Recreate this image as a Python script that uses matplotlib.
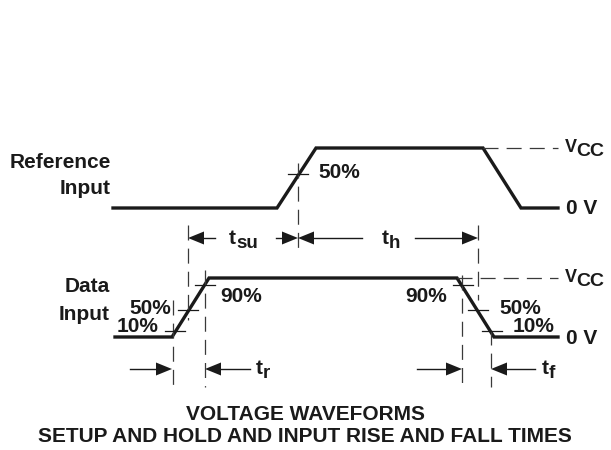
import matplotlib.pyplot as plt
from matplotlib.patches import Polygon

plt.rcParams['font.family'] = ['Liberation Sans', 'DejaVu Sans']
plt.rcParams['font.weight'] = 'bold'

# waveforms, in picture pixels (y grows downward)
ref_x = [113, 277, 316, 483, 521, 558]
ref_y = [208, 208, 148, 148, 208, 208]
data_x = [115, 172, 209, 457, 494, 558]
data_y = [337, 337, 278, 278, 337, 337]

# dashed guides: (x0, y0, x1, y1)
guides = [
    (483, 148, 558, 148), (457, 278, 558, 278),
    (188, 225, 188, 320), (298, 163, 298, 250), (478, 225, 478, 300),
    (173, 300, 173, 387), (205, 270, 205, 387),
    (462, 275, 462, 387), (491, 330, 491, 387),
]
# level ticks: (x_center, y)
ticks = [(298, 174), (175, 331), (188, 310), (205, 285),
         (463, 285), (478, 310), (492, 331)]
# arrows: (tip_x, y, direction, tail_x)
arrows = [
    (188, 238, -1, 215), (298, 238, 1, 276), (298, 238, -1, 362), (478, 238, 1, 415),
    (172, 369, 1, 130), (205, 369, -1, 250), (462, 369, 1, 417), (491, 369, -1, 535),
]
# labels: (x, y, text, ha)
labels = [
    (111, 162, 'Reference', 'right'), (111, 188, 'Input', 'right'),
    (110, 286, 'Data', 'right'), (110, 314, 'Input', 'right'),
    (318, 173, '50%', 'left'),
    (171, 309, '50%', 'right'), (158, 327, '10%', 'right'), (220, 297, '90%', 'left'),
    (447, 297, '90%', 'right'), (499, 308, '50%', 'left'), (513, 327, '10%', 'left'),
    (566, 209, '0 V', 'left'), (566, 338, '0 V', 'left'),
]
# symbols with subscript: (x, y, main, sub)
symbols = [
    (565, 147, 'V', 'CC'), (565, 278, 'V', 'CC'),
    (229, 238, 't', 'su'), (382, 238, 't', 'h'),
    (256, 368, 't', 'r'), (542, 368, 't', 'f'),
]
title_lines = ['VOLTAGE WAVEFORMS', 'SETUP AND HOLD AND INPUT RISE AND FALL TIMES']

fig = plt.figure(figsize=(6.11, 4.5), dpi=100)
ax = fig.add_axes([0, 0, 1, 1])
ax.set_xlim(0, 611)
ax.set_ylim(450, 0)
ax.axis('off')

ink = '#1a1a1a'
fs = 15

ax.plot(ref_x, ref_y, color=ink, lw=2.4, solid_joinstyle='miter')
ax.plot(data_x, data_y, color=ink, lw=2.4, solid_joinstyle='miter')

for x0, y0, x1, y1 in guides:
    ax.plot([x0, x1], [y0, y1], color='#3a3a3a', lw=0.9, dashes=(12, 6.5))

for xc, y in ticks:
    ax.plot([xc - 10, xc + 10], [y, y], color=ink, lw=0.9)

for tip, y, d, tail in arrows:
    head = 16
    ax.plot([tail, tip - d * head], [y, y], color=ink, lw=1.0)
    ax.add_patch(Polygon([(tip, y), (tip - d * head, y - 6.5), (tip - d * head, y + 6.5)],
                         closed=True, color=ink, lw=0))

for x, y, s, ha in labels:
    ax.text(x, y, s, ha=ha, va='center', fontsize=fs, color=ink)

for x, y, main, sub in symbols:
    if main == 'V':
        ax.text(x, y, main, ha='left', va='center', fontsize=13, color=ink)
        ax.text(x + 11, y + 4, sub, ha='left', va='center', fontsize=14, color=ink)
    else:
        ax.text(x, y, main, ha='left', va='center', fontsize=fs, color=ink)
        ax.text(x + 7, y + 5, sub, ha='left', va='center', fontsize=13.5, color=ink)

for i, line in enumerate(title_lines):
    ax.text(305, 415 + i * 21, line, ha='center', va='center', fontsize=fs, color=ink)

plt.savefig('out.png', dpi=100)
